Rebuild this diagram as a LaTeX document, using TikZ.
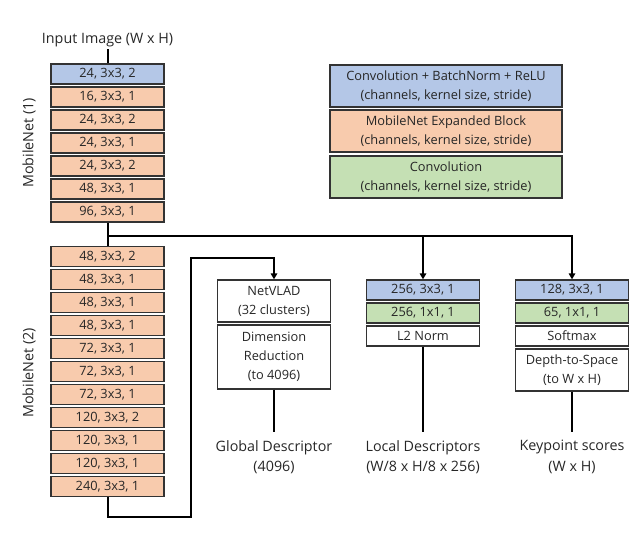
\documentclass[tikz,border=0pt]{standalone}
\usepackage{fontspec}
\setmainfont{Open Sans}
\usetikzlibrary{arrows.meta}
\definecolor{convblue}{RGB}{180,199,231}
\definecolor{mbnorange}{RGB}{248,203,173}
\definecolor{convgreen}{RGB}{197,224,180}
\newcommand{\netfont}{\fontsize{12.8}{19}\selectfont}
\newcommand{\lblfont}{\fontsize{14.3}{20.3}\selectfont}
\tikzset{
  layer/.style={draw=black!80, line width=1.3pt, minimum width=113pt, minimum height=20pt,
    inner sep=0pt, align=center, text=black!85, font=\netfont},
  legendbox/.style={layer, minimum width=232pt, minimum height=42pt},
  link/.style={line width=2pt, draw=black},
  outlbl/.style={align=center, inner xsep=0pt, inner ysep=8pt, anchor=north, text=black!85, font=\lblfont},
  sidelbl/.style={rotate=90, text=black!85, font=\lblfont}
}

\begin{document}
\begin{tikzpicture}[x=1pt, y=-1pt, >={Triangle[length=6pt,width=6.5pt]}]
\useasboundingbox (0,0) rectangle (642,541);
%input and first part
\node[outlbl, anchor=center, inner ysep=2pt] (in) at (107.5,40) {Input Image (W x H)};
\node[layer, fill=convblue] (m1-1) at (107.5,74) {24, 3x3, 2};
\foreach \lbl [count=\i from 2] in {{16, 3x3, 1},{24, 3x3, 2},{24, 3x3, 1},{24, 3x3, 2},{48, 3x3, 1},{96, 3x3, 1}}{
	\node[layer, fill=mbnorange] (m1-\i) at (107.5,{74+23*(\i-1)}) {\lbl};
	}
\node[sidelbl] (mbn1) at (29,143) {MobileNet (1)};
%second part
\foreach \lbl [count=\i] in {{48, 3x3, 2},{48, 3x3, 1},{48, 3x3, 1},{48, 3x3, 1},{72, 3x3, 1},{72, 3x3, 1},{72, 3x3, 1},{120, 3x3, 2},{120, 3x3, 1},{120, 3x3, 1},{240, 3x3, 1}}{
	\node[layer, fill=mbnorange] (m2-\i) at (107.5,{256.5+23*(\i-1)}) {\lbl};
	}
\node[sidelbl] (mbn2) at (29,373) {MobileNet (2)};
%legend
\node[legendbox, fill=convblue] (leg1) at (446,86) {Convolution + BatchNorm + ReLU\\(channels, kernel size, stride)};
\node[legendbox, fill=mbnorange] (leg2) at (446,131) {MobileNet Expanded Block\\(channels, kernel size, stride)};
\node[legendbox, fill=convgreen] (leg3) at (446,177) {Convolution\\(channels, kernel size, stride)};
%heads
\node[layer, minimum height=42pt] (vlad) at (274,301) {NetVLAD\\(32 clusters)};
\node[layer, minimum height=64pt] (dim) at (274,357) {Dimension\\Reduction\\(to 4096)};
\node[layer, fill=convblue] (loc1) at (423,290) {256, 3x3, 1};
\node[layer, fill=convgreen] (loc2) at (423,313) {256, 1x1, 1};
\node[layer] (loc3) at (423,336) {L2 Norm};
\node[layer, fill=convblue] (kp1) at (572,290) {128, 3x3, 1};
\node[layer, fill=convgreen] (kp2) at (572,313) {65, 1x1, 1};
\node[layer] (kp3) at (572,336) {Softmax};
\node[layer, minimum height=42pt] (kp4) at (572,370) {Depth-to-Space\\(to W x H)};
%outputs
\node[outlbl] (gdesc) at (274,432) {Global Descriptor\\(4096)};
\node[outlbl] (ldesc) at (423,432) {Local Descriptors\\(W/8 x H/8 x 256)};
\node[outlbl] (kdesc) at (572,432) {Keypoint scores\\(W x H)};
%connectors
\coordinate (split) at (107.5,236);
\coordinate (loopa) at (191,517);
\coordinate (loopb) at (191,258);
\draw[link] (in) -- (m1-1);
\draw[link] (m1-7) -- (m2-1);
\draw[link, ->] (split) -| (kp1);
\draw[link, ->] (loc1 |- split) -- (loc1);
\draw[link, ->] (m2-11) |- (loopa) -- (loopb) -| (vlad);
\draw[link] (dim) -- (gdesc);
\draw[link] (loc3) -- (ldesc);
\draw[link] (kp4) -- (kdesc);
\end{tikzpicture}
\end{document}
